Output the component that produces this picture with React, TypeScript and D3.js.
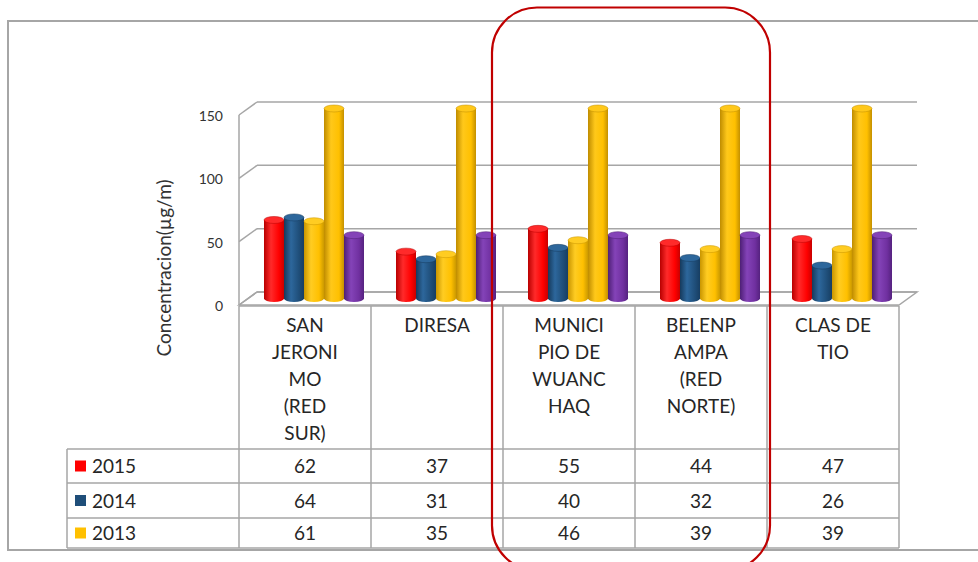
import React, { useEffect, useRef } from 'react';
import * as d3 from 'd3';

// Chart data
const categories = ['SAN JERONIMO', 'DIRESA', 'MUNICIPIO', 'BELENPAMPA', 'CLAS DE TIO'];
const categoryLines = [
  ['SAN', 'JERONI', 'MO', '(RED', 'SUR)'],
  ['DIRESA'],
  ['MUNICI', 'PIO DE', 'WUANC', 'HAQ'],
  ['BELENP', 'AMPA', '(RED', 'NORTE)'],
  ['CLAS DE', 'TIO'],
];
const seriesNames = ['2015', '2014', '2013', 'LMP', 'OMS'];
const values2015 = [62, 37, 55, 44, 47];
const values2014 = [64, 31, 40, 32, 26];
const values2013 = [61, 35, 46, 39, 39];
const valuesLmp = [150, 150, 150, 150, 150];
const valuesOms = [50, 50, 50, 50, 50];
const tableRows = ['2015', '2014', '2013'];
const yTicks = [0, 50, 100, 150];
const colors = ['#FF0000', '#1F4E79', '#FFC000', '#FFC000', '#7030A0'];
const shades = [
  ['#B80000', '#FF2A2A', '#C80000'],
  ['#163A5C', '#2D679C', '#173E62'],
  ['#C99500', '#FFCC22', '#CC9A00'],
  ['#BF8C00', '#FFC81A', '#C49000'],
  ['#4E1F75', '#8443B8', '#55227F'],
];

const App = () => {
  const ref = useRef<SVGSVGElement>(null);

  useEffect(() => {
    const svg = d3.select(ref.current);
    svg.selectAll('*').remove();

    const font = 'Lato, "Open Sans", sans-serif';
    const grid = '#A6A6A6';
    const allSeries = [values2015, values2014, values2013, valuesLmp, valuesOms];

    const x = d3.scaleBand<string>().domain(categories).range([239, 899]);
    const y = d3.scaleLinear().domain([0, 150]).range([305, 115]);
    const depthX = 18;
    const depthY = -13;
    const inner = d3.scaleBand<string>().domain(seriesNames).range([-50, 50]);

    const defs = svg.append('defs');
    shades.forEach((s, i) => {
      const g = defs.append('linearGradient').attr('id', `cyl${i}`).attr('x1', 0).attr('x2', 1).attr('y1', 0).attr('y2', 0);
      g.append('stop').attr('offset', '0%').attr('stop-color', s[0]);
      g.append('stop').attr('offset', '35%').attr('stop-color', s[1]);
      g.append('stop').attr('offset', '75%').attr('stop-color', colors[i]);
      g.append('stop').attr('offset', '100%').attr('stop-color', s[2]);
    });

    // outer frame
    svg.append('rect')
      .attr('x', 8).attr('y', 21).attr('width', 990).attr('height', 529)
      .attr('fill', 'white').attr('stroke', grid).attr('stroke-width', 2);

    // floor
    const x0 = 239, x1 = 899;
    svg.append('path')
      .attr('d', `M${x0},${y(0)}L${x0 + depthX},${y(0) + depthY}L${x1 + depthX},${y(0) + depthY}L${x1},${y(0)}Z`)
      .attr('fill', 'white').attr('stroke', grid).attr('stroke-width', 1.5);

    // back wall gridlines and side wall
    yTicks.forEach((t) => {
      svg.append('line')
        .attr('x1', x0 + depthX).attr('x2', x1 + depthX)
        .attr('y1', y(t) + depthY).attr('y2', y(t) + depthY)
        .attr('stroke', grid).attr('stroke-width', 1.5);
      svg.append('line')
        .attr('x1', x0).attr('x2', x0 + depthX)
        .attr('y1', y(t)).attr('y2', y(t) + depthY)
        .attr('stroke', grid).attr('stroke-width', 1.5);
      svg.append('text')
        .attr('x', 223).attr('y', y(t) + 6)
        .attr('text-anchor', 'end')
        .attr('font-family', font).attr('font-size', 14).attr('fill', '#333')
        .text(t);
    });
    svg.append('line')
      .attr('x1', x0).attr('x2', x0).attr('y1', y(150)).attr('y2', y(0))
      .attr('stroke', grid).attr('stroke-width', 1.5);

    // y axis title
    svg.append('text')
      .attr('transform', `translate(171,268) rotate(-90)`)
      .attr('text-anchor', 'middle')
      .attr('font-family', font).attr('font-size', 19).attr('fill', '#333')
      .text('Concentracion(µg/m)');

    // cylinders
    const bw = inner.bandwidth();
    const ry = 3.5;
    categories.forEach((c, ci) => {
      const cx = (x(c) as number) + x.bandwidth() / 2 + depthX / 2;
      allSeries.forEach((vals, si) => {
        const left = cx + (inner(seriesNames[si]) as number);
        const base = y(0) + depthY / 2;
        const top = y(vals[ci]) + depthY / 2;
        const g = svg.append('g');
        g.append('path')
          .attr('d', `M${left},${top}L${left},${base}A${bw / 2},${ry} 0 0 0 ${left + bw},${base}L${left + bw},${top}Z`)
          .attr('fill', `url(#cyl${si})`);
        g.append('ellipse')
          .attr('cx', left + bw / 2).attr('cy', top)
          .attr('rx', bw / 2).attr('ry', ry)
          .attr('fill', shades[si][1]).attr('stroke', shades[si][0]).attr('stroke-width', 0.5);
      });
    });

    // data table
    const tableLeft = 67;
    const headerTop = 306;
    const rowTops = [449, 483, 518, 548];
    const lineAttrs = (sel: any) => sel.attr('stroke', grid).attr('stroke-width', 1.5);

    lineAttrs(svg.append('line').attr('x1', x0).attr('x2', x1).attr('y1', headerTop).attr('y2', headerTop));
    rowTops.forEach((r) => {
      lineAttrs(svg.append('line').attr('x1', tableLeft).attr('x2', x1).attr('y1', r).attr('y2', r));
    });
    lineAttrs(svg.append('line').attr('x1', tableLeft).attr('x2', tableLeft).attr('y1', rowTops[0]).attr('y2', rowTops[3]));
    const edges = categories.map((c) => x(c) as number).concat([x1]);
    edges.forEach((e) => {
      lineAttrs(svg.append('line').attr('x1', e).attr('x2', e).attr('y1', headerTop).attr('y2', rowTops[3]));
    });

    categories.forEach((c, ci) => {
      const cx = (x(c) as number) + x.bandwidth() / 2;
      categoryLines[ci].forEach((ln, li) => {
        svg.append('text')
          .attr('x', cx).attr('y', 332 + li * 27)
          .attr('text-anchor', 'middle')
          .attr('font-family', font).attr('font-size', 19).attr('fill', '#262626')
          .text(ln);
      });
    });

    const tableVals = [values2015, values2014, values2013];
    tableRows.forEach((name, ri) => {
      const mid = (rowTops[ri] + rowTops[ri + 1]) / 2;
      svg.append('rect')
        .attr('x', 75).attr('y', mid - 5.5).attr('width', 11).attr('height', 11)
        .attr('fill', colors[ri]);
      svg.append('text')
        .attr('x', 92).attr('y', mid + 7)
        .attr('font-family', font).attr('font-size', 19).attr('fill', '#262626')
        .text(name);
      categories.forEach((c, ci) => {
        svg.append('text')
          .attr('x', (x(c) as number) + x.bandwidth() / 2).attr('y', mid + 7)
          .attr('text-anchor', 'middle')
          .attr('font-family', font).attr('font-size', 19).attr('fill', '#262626')
          .text(tableVals[ri][ci]);
      });
    });

    // red highlight box
    svg.append('rect')
      .attr('x', 492).attr('y', 7.5).attr('width', 278).attr('height', 563).attr('rx', 45)
      .attr('fill', 'none').attr('stroke', '#C00000').attr('stroke-width', 2.2);
  }, []);

  return (
    <svg
      ref={ref}
      width={978}
      height={562}
      style={{ position: 'absolute', left: 0, top: 0, background: 'white' }}
    />
  );
};

export default App;
